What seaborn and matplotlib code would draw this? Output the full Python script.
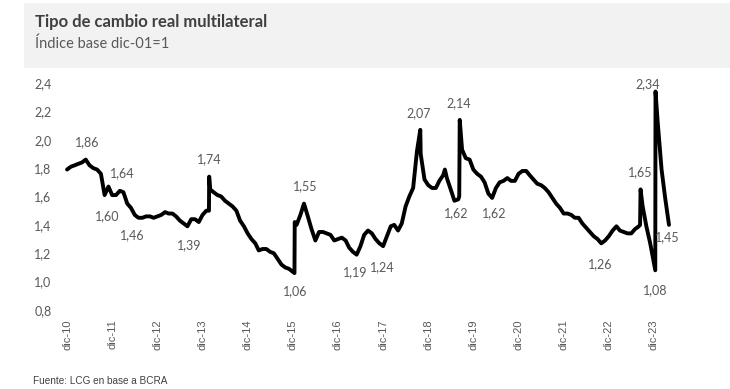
import matplotlib
matplotlib.use("Agg")
import matplotlib.pyplot as plt
from matplotlib.patches import Rectangle
import matplotlib.ticker as mticker
import seaborn as sns
import pandas as pd

# ---------------- data ----------------
month_start = "2010-12-01"
month_end = "2024-04-01"
monthly_values = [
    1.79,                                                                   # dic-10
    1.81, 1.82, 1.83, 1.84, 1.86, 1.82, 1.80, 1.79, 1.76, 1.61, 1.67, 1.61,  # 2011
    1.61, 1.64, 1.63, 1.55, 1.52, 1.47, 1.45, 1.45, 1.46, 1.46, 1.45, 1.46,  # 2012
    1.47, 1.49, 1.48, 1.48, 1.46, 1.43, 1.41, 1.39, 1.44, 1.44, 1.42, 1.47,  # 2013
    1.50, 1.65, 1.63, 1.61, 1.60, 1.57, 1.55, 1.53, 1.50, 1.43, 1.39, 1.34,  # 2014
    1.30, 1.27, 1.22, 1.23, 1.23, 1.21, 1.20, 1.16, 1.12, 1.10, 1.09, 1.07,  # 2015
    1.40, 1.47, 1.55, 1.46, 1.37, 1.29, 1.35, 1.35, 1.34, 1.33, 1.29, 1.30,  # 2016
    1.31, 1.29, 1.24, 1.21, 1.19, 1.25, 1.33, 1.36, 1.34, 1.30, 1.27, 1.25,  # 2017
    1.32, 1.39, 1.40, 1.36, 1.41, 1.53, 1.60, 1.66, 1.92, 1.90, 1.72, 1.68,  # 2018
    1.66, 1.66, 1.71, 1.75, 1.73, 1.65, 1.57, 1.58, 1.93, 1.87, 1.86, 1.79,  # 2019
    1.76, 1.74, 1.70, 1.62, 1.59, 1.66, 1.70, 1.71, 1.73, 1.71, 1.71, 1.76,  # 2020
    1.78, 1.78, 1.75, 1.72, 1.69, 1.68, 1.66, 1.63, 1.59, 1.55, 1.52, 1.48,  # 2021
    1.48, 1.47, 1.45, 1.45, 1.41, 1.38, 1.35, 1.32, 1.30, 1.27, 1.29, 1.32,  # 2022
    1.36, 1.39, 1.36, 1.35, 1.34, 1.34, 1.37, 1.39, 1.53, 1.39, 1.27, 1.13,  # 2023
    2.12, 1.79, 1.59, 1.40,                                                  # 2024
]
event_dates = ["2014-01-22", "2014-01-24", "2015-12-15", "2015-12-17",
               "2018-09-28", "2019-04-15", "2019-08-09", "2019-08-13",
               "2023-08-11", "2023-08-15", "2023-12-12", "2023-12-14"]
event_values = [1.50, 1.74, 1.06, 1.42,
                2.07, 1.79, 1.60, 2.14,
                1.40, 1.65, 1.08, 2.34]

tick_years = list(range(2010, 2024))
tick_labels = ["dic-10", "dic-11", "dic-12", "dic-13", "dic-14", "dic-15", "dic-16",
               "dic-17", "dic-18", "dic-19", "dic-20", "dic-21", "dic-22", "dic-23"]

ann_labels = ["1,86", "1,64", "1,60", "1,46", "1,39", "1,74", "1,06", "1,55", "1,19",
              "1,24", "2,07", "2,14", "1,62", "1,62", "1,26", "1,65", "2,34", "1,45", "1,08"]
ann_dates = ["2011-05-10", "2012-02-18", "2011-10-18", "2012-05-15", "2013-08-12",
             "2014-01-22", "2015-12-18", "2016-03-07", "2017-04-22", "2017-11-22",
             "2018-09-16", "2019-08-06", "2019-07-19", "2020-05-16", "2022-09-19",
             "2023-08-10", "2023-10-13", "2024-03-22", "2023-12-10"]
ann_y = [1.98, 1.765, 1.46, 1.33, 1.26, 1.86, 0.93, 1.67, 1.07,
         1.10, 2.19, 2.26, 1.48, 1.48, 1.12, 1.77, 2.39, 1.31, 0.94]

title = "Tipo de cambio real multilateral"
subtitle = "Índice base dic-01=1"
source = "Fuente: LCG en base a BCRA"

# ---------------- build frame ----------------
months = pd.date_range(month_start, month_end, freq="MS")
df = pd.concat([
    pd.DataFrame({"fecha": months, "tcrm": monthly_values}),
    pd.DataFrame({"fecha": pd.to_datetime(event_dates), "tcrm": event_values}),
]).sort_values("fecha").reset_index(drop=True)

# ---------------- figure ----------------
sns.set_style("white")
plt.rcParams["font.family"] = ["Lato", "DejaVu Sans"]

W, H = 730, 389
fig = plt.figure(figsize=(W / 100, H / 100), dpi=100)
fig.patches.append(Rectangle((24 / W, 1 - 68 / H), (W - 24) / W, 65 / H,
                             transform=fig.transFigure, facecolor="#f2f2f2",
                             edgecolor="none", zorder=0))

ax = fig.add_axes([60 / W, (H - 310) / H, 630 / W, (310 - 83) / H])
ax.set_facecolor("white")

sns.lineplot(data=df, x="fecha", y="tcrm", ax=ax, color="black", linewidth=2.8,
             estimator=None, sort=False)

d0 = pd.Timestamp("2010-12-01")
ax.set_xlim(d0 - pd.Timedelta(days=57), d0 + pd.Timedelta(days=5040))
ax.set_ylim(0.8, 2.4)
ax.set_yticks([0.8, 1.0, 1.2, 1.4, 1.6, 1.8, 2.0, 2.2, 2.4])
ax.yaxis.set_major_formatter(mticker.FuncFormatter(lambda v, p: f"{v:.1f}".replace(".", ",")))
ax.set_xticks([pd.Timestamp(f"{y}-12-01") for y in tick_years])
ax.set_xticklabels(tick_labels, rotation=90, fontsize=8, color="#595959",
                   family=["Liberation Sans", "DejaVu Sans"])
for lab in ax.get_yticklabels():
    lab.set_fontsize(9)
    lab.set_color("#595959")
ax.tick_params(axis="both", length=0)
ax.tick_params(axis="y", pad=6)
ax.tick_params(axis="x", pad=7)
ax.set_xlabel("")
ax.set_ylabel("")
sns.despine(ax=ax, left=True, bottom=True)
ax.grid(False)

for lab, d, yv in zip(ann_labels, ann_dates, ann_y):
    ax.text(pd.Timestamp(d), yv, lab, ha="center", va="center", fontsize=9,
            color="#595959", clip_on=False)

fig.text(35 / W, 1 - 27 / H, title, fontsize=12, fontweight="bold", color="#404040",
         va="baseline", ha="left")
fig.text(35 / W, 1 - 48 / H, subtitle, fontsize=10.5, color="#595959",
         va="baseline", ha="left")
fig.text(33 / W, 1 - 384 / H, source, fontsize=7.2, color="#404040",
         va="baseline", ha="left", family=["Liberation Sans", "DejaVu Sans"])

fig.savefig("out.png", dpi=100, facecolor="white")
